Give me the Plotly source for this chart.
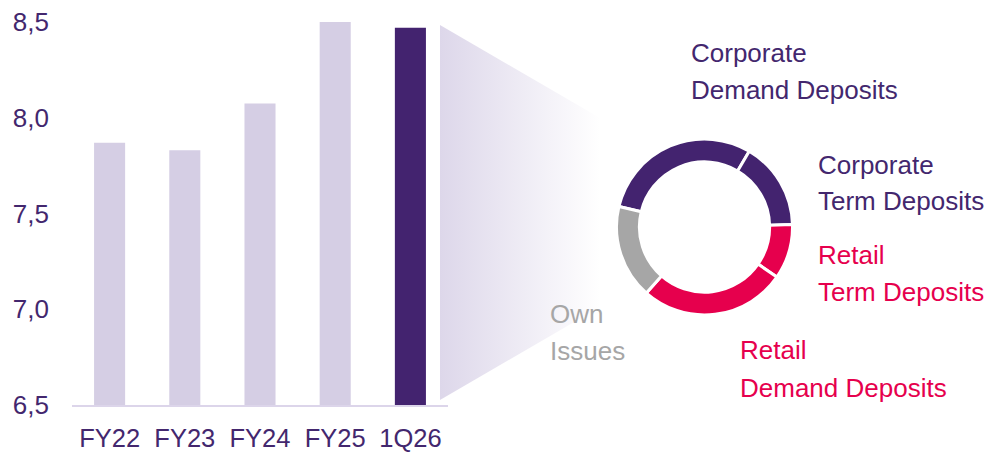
import plotly.graph_objects as go

# ---- data ----
periods = ["FY22", "FY23", "FY24", "FY25", "1Q26"]
deposits = [7.87, 7.83, 8.075, 8.50, 8.47]

mix_labels = ["Corporate Demand Deposits", "Corporate Term Deposits",
              "Retail Term Deposits", "Retail Demand Deposits", "Own Issues"]
mix_shares = [29.8, 16.1, 10.1, 26.9, 17.3]

y_ticks = [6.5, 7.0, 7.5, 8.0, 8.5]

# ---- styles ----
W, H = 997, 455
LIGHT = "#d5cee4"
DARK = "#43236f"
PINK = "#e6004d"
GREY = "#a6a6a6"
TEXT = "#43276e"
FONT = "Liberation Sans, Arial, sans-serif"

bar_colors = [LIGHT] * (len(periods) - 1) + [DARK]
pie_colors = [DARK, DARK, PINK, PINK, GREY]

fig = go.Figure()

# decorative wedge (in pixel space overlay)
WEDGE_X = [440, 600, 600, 440, 440]
WEDGE_Y = [25, 118, 307, 400, 25]
fig.add_trace(go.Scatter(
    x=WEDGE_X, y=WEDGE_Y, xaxis="x2", yaxis="y2",
    mode="lines", line=dict(width=0), fill="toself",
    fillgradient=dict(type="horizontal",
                      colorscale=[[0, "#ddd7ea"], [1, "#ffffff"]],
                      start=440, stop=600),
    hoverinfo="skip", showlegend=False,
))

fig.add_trace(go.Bar(
    x=periods, y=deposits, marker=dict(color=bar_colors, line=dict(width=0)),
    showlegend=False, hoverinfo="skip",
))

cx, cy, r = 704.5, 227, 88
fig.add_trace(go.Pie(
    labels=mix_labels, values=mix_shares, sort=False, direction="clockwise",
    rotation=-76.5, hole=0.74, textinfo="none", hoverinfo="skip",
    marker=dict(colors=pie_colors, line=dict(color="white", width=3)),
    domain=dict(x=[(cx - r) / W, (cx + r) / W],
                y=[(H - cy - r) / H, (H - cy + r) / H]),
    showlegend=False,
))

# labels: (text, x_px, y_center_px, color)
label_lines = [
    ("Corporate", 689, 53, TEXT), ("Demand Deposits", 689, 90, TEXT),
    ("Corporate", 816, 165, TEXT), ("Term Deposits", 816, 201, TEXT),
    ("Retail", 816, 255, PINK), ("Term Deposits", 816, 291.5, PINK),
    ("Own", 548, 314, GREY), ("Issues", 548, 351, GREY),
    ("Retail", 738, 350, PINK), ("Demand Deposits", 738, 387.5, PINK),
]
for txt, lx, ly, col in label_lines:
    fig.add_annotation(text=txt, x=lx / W, y=1 - ly / H, xref="paper", yref="paper",
                       xanchor="left", yanchor="middle", showarrow=False,
                       font=dict(size=26, color=col, family=FONT))

fig.update_layout(
    template="none",
    width=W, height=H, autosize=False,
    margin=dict(l=0, r=0, t=0, b=0, pad=0),
    paper_bgcolor="white", plot_bgcolor="rgba(0,0,0,0)",
    separators=", ",
    bargap=0.587,
    font=dict(family=FONT, color=TEXT),
    xaxis=dict(domain=[72 / W, 448 / W], range=[-0.5, 4.5], showgrid=False,
               showline=True, linecolor="#dcd5ea", linewidth=2, ticks="",
               zeroline=False, automargin=False,
               tickfont=dict(size=25.5, color=TEXT, family=FONT),
               ticklabelstandoff=9, fixedrange=True),
    yaxis=dict(domain=[50 / H, 433 / H], range=[6.5, 8.5], showgrid=False,
               showline=False, zeroline=False, ticks="", automargin=False,
               tickvals=y_ticks, tickformat=".1f",
               tickfont=dict(size=26, color=TEXT, family=FONT),
               ticklabelstandoff=22, fixedrange=True),
    xaxis2=dict(domain=[0, 1], range=[0, W], anchor="y2", visible=False,
                fixedrange=True),
    yaxis2=dict(domain=[0, 1], range=[H, 0], anchor="x2", visible=False,
                fixedrange=True),
)

fig.write_html("out.html", config=dict(displayModeBar=False),
               post_script="document.body.style.margin='0';document.body.style.overflow='hidden';")
